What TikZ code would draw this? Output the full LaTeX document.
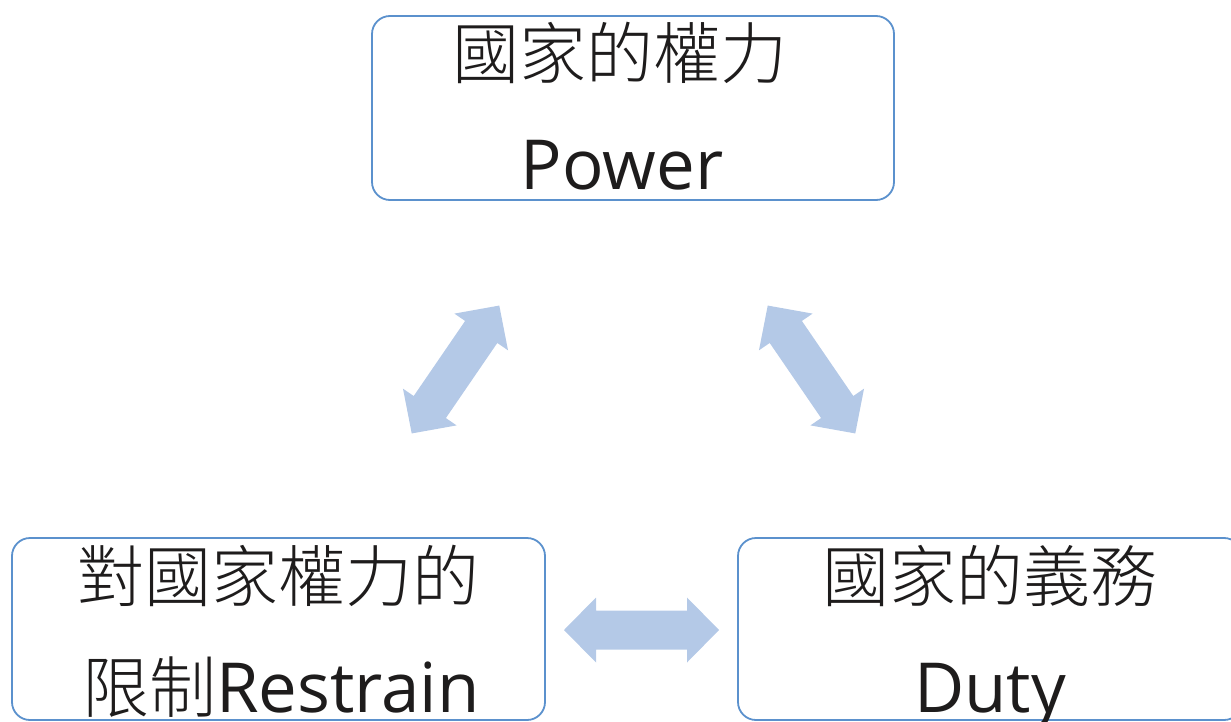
\documentclass[tikz,border=0pt]{standalone}
\usepackage{fontspec}
\setmainfont{Open Sans}
\newfontfamily\cjk{Noto Sans CJK TC}[UprightFont={* Light}]
\definecolor{boxline}{RGB}{91,145,205}
\definecolor{arrowfill}{RGB}{180,201,231}
\definecolor{txt}{RGB}{30,28,28}
\tikzset{
  box/.style={draw=boxline, line width=1.8pt, rounded corners=18pt, fill=white, inner sep=0pt},
  label/.style={anchor=base, inner sep=0pt, text=txt, font=\fontsize{69}{69}\selectfont},
  cjklabel/.style={label, font=\fontsize{67}{67}\selectfont\cjk},
  dblarrow/.pic={\fill[arrowfill] (-77.5,0) -- (-45.5,-32.5) -- (-45.5,-19.5) -- (45.5,-19.5) -- (45.5,-32.5) -- (77.5,0) -- (45.5,32.5) -- (45.5,19.5) -- (-45.5,19.5) -- (-45.5,32.5) -- cycle;}
}
\begin{document}
\begin{tikzpicture}[x=1pt,y=-1pt]
\useasboundingbox (0,0) rectangle (1231,722);
% boxes
\node[box, minimum width=522pt, minimum height=184pt] (power) at (633,108) {};
\node[box, minimum width=533pt, minimum height=182pt] (restrain) at (278.5,629) {};
\node[box, minimum width=504pt, minimum height=182pt] (duty) at (990,629) {};
% texts
\node[cjklabel] (t1) at (620,79) {國家的權力};
\node[label] (t2) at (622,190) {Power};
\node[cjklabel] (t3) at (278,601) {對國家權力的};
\node[label] (t4) at (281,712) {{\fontsize{67}{67}\selectfont\cjk 限制}Restrain};
\node[cjklabel] (t5) at (990,601) {國家的義務};
\node[label] (t6) at (990,712) {Duty};
% arrows
\coordinate (aL) at (455.5,369.5);
\coordinate (aR) at (811.5,369.5);
\coordinate (aB) at (641.5,630);
\pic[rotate=55.6] at (aL) {dblarrow};
\pic[rotate=-55.6] at (aR) {dblarrow};
\pic at (aB) {dblarrow};
\end{tikzpicture}
\end{document}
